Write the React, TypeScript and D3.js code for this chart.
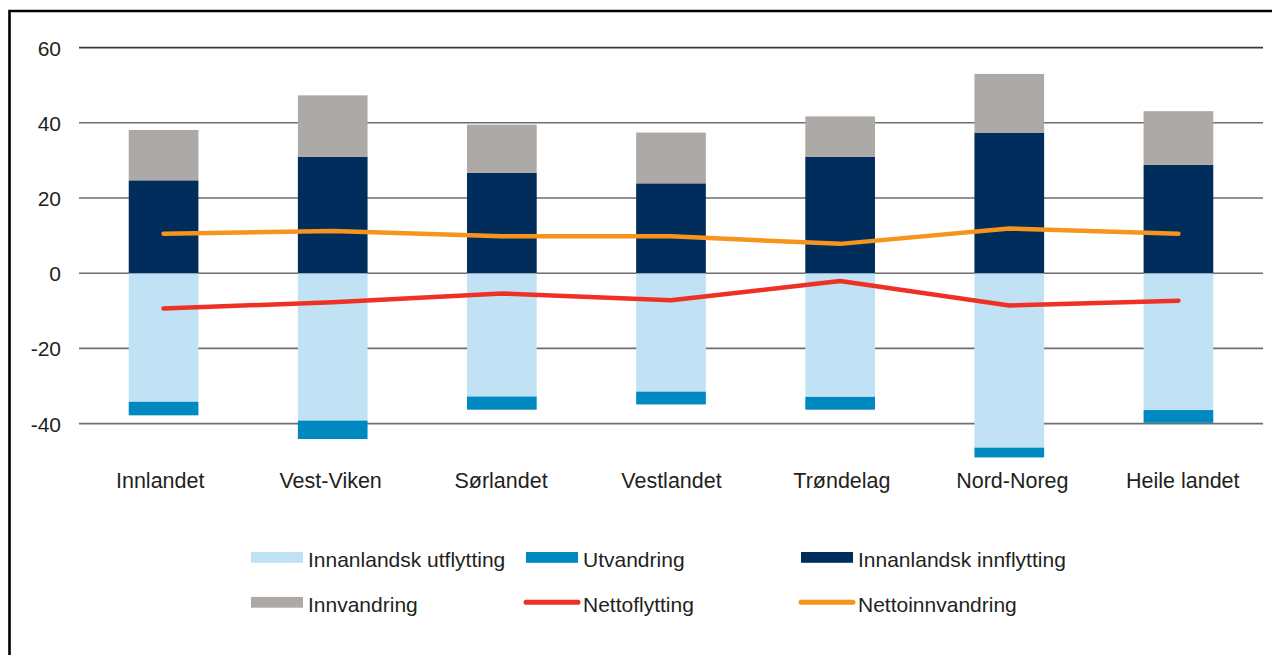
import React, { useEffect, useRef } from 'react'
import * as d3 from 'd3'

// regionar
const regions = [
  'Innlandet',
  'Vest-Viken',
  'Sørlandet',
  'Vestlandet',
  'Trøndelag',
  'Nord-Noreg',
  'Heile landet'
]
// per 1000 innbyggjarar (lese av figuren)
const innanlandskUtflytting = [34.2, 39.2, 32.8, 31.5, 32.9, 46.4, 36.4]
const utvandring = [3.6, 4.9, 3.5, 3.4, 3.4, 2.6, 3.4]
const innanlandskInnflytting = [24.7, 31.0, 26.7, 23.9, 31.0, 37.4, 28.8]
const innvandring = [13.4, 16.3, 12.8, 13.5, 10.7, 15.6, 14.3]
const nettoflytting = [-9.4, -7.7, -5.4, -7.2, -2.1, -8.6, -7.3]
const nettoinnvandring = [10.5, 11.2, 9.8, 9.8, 7.8, 11.9, 10.5]
const yTicks = [60, 40, 20, 0, -20, -40]

const COLORS = {
  utfl: '#c1e1f4',
  utv: '#0089c1',
  innfl: '#002d5c',
  innv: '#ada9a6',
  netto: '#ee3124',
  nettoInnv: '#f7941d'
}

const legendItems = [
  { label: 'Innanlandsk utflytting', color: COLORS.utfl, type: 'rect', col: 0, row: 0 },
  { label: 'Utvandring', color: COLORS.utv, type: 'rect', col: 1, row: 0 },
  { label: 'Innanlandsk innflytting', color: COLORS.innfl, type: 'rect', col: 2, row: 0 },
  { label: 'Innvandring', color: COLORS.innv, type: 'rect', col: 0, row: 1 },
  { label: 'Nettoflytting', color: COLORS.netto, type: 'line', col: 1, row: 1 },
  { label: 'Nettoinnvandring', color: COLORS.nettoInnv, type: 'line', col: 2, row: 1 }
]

const FONT = 'Arial, "Liberation Sans", Helvetica, sans-serif'
const TEXT = '#231f20'

export default function App() {
  const ref = useRef<SVGSVGElement>(null)

  useEffect(() => {
    const width = 1272
    const height = 655
    const svg = d3.select(ref.current)
    svg.selectAll('*').remove()

    // ramme (berre venstre og topp er synleg)
    svg
      .append('path')
      .attr('d', `M9.5,${height + 5} L9.5,11 L${width + 5},11`)
      .attr('fill', 'none')
      .attr('stroke', '#000')
      .attr('stroke-width', 2.6)

    const x = d3
      .scaleBand()
      .domain(regions)
      .range([79, 1263])
      .paddingInner(0.588)
      .paddingOuter(0.294)

    // kategoritekstane ligg litt breiare enn søylene
    const xLabel = d3.scaleBand().domain(regions).range([75, 1268])

    const y = d3.scaleLinear().domain([-40, 60]).range([423.6, 47.6])

    // rutenett
    svg
      .append('g')
      .selectAll('line')
      .data(yTicks)
      .enter()
      .append('line')
      .attr('x1', 79)
      .attr('x2', 1263)
      .attr('y1', (d) => y(d))
      .attr('y2', (d) => y(d))
      .attr('stroke', (d) => (d === 60 ? '#3a3a3a' : '#6e6e6e'))
      .attr('stroke-width', 1.6)

    // y-akse tekst
    svg
      .append('g')
      .selectAll('text')
      .data(yTicks)
      .enter()
      .append('text')
      .attr('x', 61)
      .attr('y', (d) => y(d) + 8)
      .attr('text-anchor', 'end')
      .attr('font-family', FONT)
      .attr('font-size', 21)
      .attr('fill', TEXT)
      .text((d) => d)

    const bw = x.bandwidth()
    // stabla søyler: negative nedover, positive oppover
    const stacks = [
      { data: innanlandskUtflytting, base: () => 0, sign: -1, color: COLORS.utfl },
      { data: utvandring, base: (i) => -innanlandskUtflytting[i], sign: -1, color: COLORS.utv },
      { data: innanlandskInnflytting, base: () => 0, sign: 1, color: COLORS.innfl },
      { data: innvandring, base: (i) => innanlandskInnflytting[i], sign: 1, color: COLORS.innv }
    ]
    stacks.forEach((s) => {
      svg
        .append('g')
        .selectAll('rect')
        .data(s.data)
        .enter()
        .append('rect')
        .attr('x', (d, i) => x(regions[i]))
        .attr('width', bw)
        .attr('y', (d, i) => {
          const b = s.base(i)
          const e = b + s.sign * d
          return y(Math.max(b, e))
        })
        .attr('height', (d) => Math.abs(y(0) - y(d)))
        .attr('fill', s.color)
    })

    // linjer
    const line = d3
      .line<number>()
      .x((d, i) => x(regions[i]) + bw / 2)
      .y((d) => y(d))
      .curve(d3.curveLinear)

    ;[
      { data: nettoinnvandring, color: COLORS.nettoInnv },
      { data: nettoflytting, color: COLORS.netto }
    ].forEach((l) => {
      svg
        .append('path')
        .datum(l.data)
        .attr('d', line)
        .attr('fill', 'none')
        .attr('stroke', l.color)
        .attr('stroke-width', 4.5)
        .attr('stroke-linecap', 'round')
        .attr('stroke-linejoin', 'round')
    })

    // kategoritekst
    svg
      .append('g')
      .selectAll('text')
      .data(regions)
      .enter()
      .append('text')
      .attr('x', (d) => xLabel(d) + xLabel.bandwidth() / 2)
      .attr('y', 488)
      .attr('text-anchor', 'middle')
      .attr('font-family', FONT)
      .attr('font-size', 21.5)
      .attr('fill', TEXT)
      .text((d) => d)

    // forklaring
    const colX = [251, 526, 801]
    const rowY = [557.4, 602.3]
    const lg = svg
      .append('g')
      .selectAll('g')
      .data(legendItems)
      .enter()
      .append('g')
      .attr('transform', (d) => `translate(${colX[d.col]}, ${rowY[d.row]})`)

    lg.filter((d) => d.type === 'rect')
      .append('rect')
      .attr('x', 0)
      .attr('y', -5.4)
      .attr('width', 52)
      .attr('height', 10.8)
      .attr('fill', (d) => d.color)

    lg.filter((d) => d.type === 'line')
      .append('line')
      .attr('x1', 0)
      .attr('x2', 52)
      .attr('y1', 0)
      .attr('y2', 0)
      .attr('stroke', (d) => d.color)
      .attr('stroke-width', 5)
      .attr('stroke-linecap', 'round')

    lg.append('text')
      .attr('x', 57)
      .attr('y', 9.3)
      .attr('font-family', FONT)
      .attr('font-size', 21)
      .attr('fill', TEXT)
      .text((d) => d.label)
  }, [])

  return (
    <svg
      ref={ref}
      width={1272}
      height={655}
      style={{ position: 'absolute', left: 0, top: 0, background: '#fff' }}
    />
  )
}
